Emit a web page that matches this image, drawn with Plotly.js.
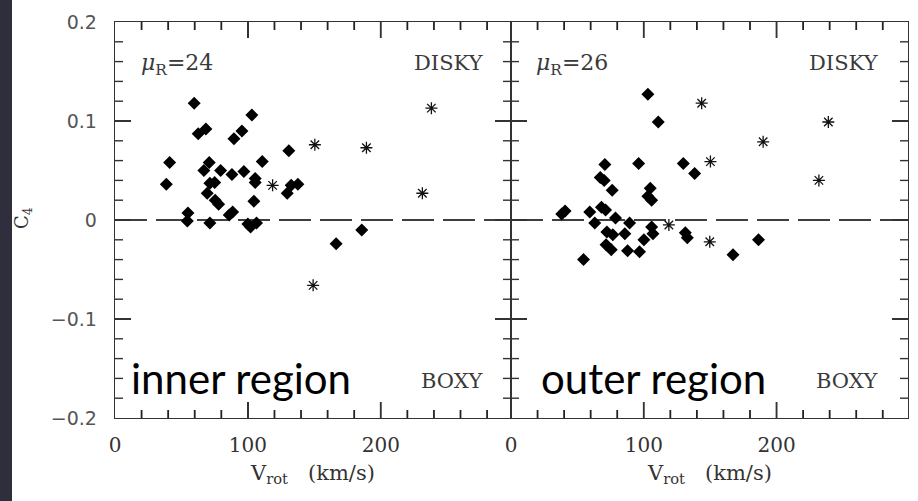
<!DOCTYPE html>
<html>
<head>
<meta charset="utf-8">
<script src="https://cdn.plot.ly/plotly-3.0.1.min.js"></script>
<style>html,body{margin:0;padding:0;background:#fff;}#chart{width:918px;height:501px;}</style>
</head>
<body>
<div id="chart"></div>
<script>
// ---- data (V_rot in km/s, C4) ----
const innerDiamondV = [59.6,103,62.6,68.4,95.5,89.5,130.8,41.1,70.9,110.8,66.9,79.5,88,97,105.5,105.5,38.6,71.4,75,69.4,75.4,78,104.5,129.6,132.6,137.6,54.9,54.4,71.4,86,88.5,100,102,106.5,185.7,166.4];
const innerDiamondC = [0.118,0.106,0.087,0.092,0.090,0.082,0.070,0.058,0.058,0.059,0.050,0.050,0.046,0.049,0.042,0.038,0.036,0.037,0.038,0.027,0.020,0.016,0.019,0.027,0.035,0.036,0.007,-0.001,-0.003,0.005,0.008,-0.004,-0.007,-0.003,-0.010,-0.024];
const innerStarV = [118.6,150.4,189.2,238.1,231.3,149.1];
const innerStarC = [0.035,0.076,0.073,0.113,0.027,-0.066];

const outerDiamondV = [103.1,110.9,70.7,96.1,129.8,138.3,67.2,70.2,76.2,104.9,103.1,105.9,40.7,38.2,59.3,68.1,71.2,78.7,63.1,89.3,105.9,106.9,72.2,76.7,85.7,100.1,131.3,132.8,186.4,71.6,75.5,87.8,96.8,54.6,167.2];
const outerDiamondC = [0.127,0.099,0.056,0.057,0.057,0.047,0.043,0.040,0.030,0.032,0.024,0.020,0.009,0.006,0.008,0.013,0.010,0.002,-0.003,-0.003,-0.007,-0.014,-0.012,-0.015,-0.014,-0.020,-0.013,-0.018,-0.020,-0.025,-0.030,-0.031,-0.032,-0.040,-0.035];
const outerStarV = [143.6,239,189.9,150.2,231.9,118.9,149.7];
const outerStarC = [0.118,0.099,0.079,0.059,0.040,-0.005,-0.022];

const yTickVals = [-0.2,-0.1,0,0.1,0.2];
const yTickText = ['\u22120.2','\u22120.1','0','0.1','0.2'];
const xTickVals = [0,100,200];
const xTickText = ['0','100','200'];
const panelLabels = ['inner region','outer region'];
const muLabels = ['24','26'];

// ---- layout helpers ----
const W = 918, H = 501;
const px = x => x / W;
const py = y => 1 - y / H;
const X1 = [0, 298], X2 = [0, 299], YR = [-0.2, 0.2];
const yPerPx = (YR[1] - YR[0]) / 396;   // plot height in px

const diamondMarker = {symbol:'diamond', size:10, color:'#000', line:{width:0}};
const starMarker = {symbol:'asterisk-open', size:10, color:'#111', line:{width:1.3, color:'#111'}};

const tickCol = '#333';
// x-axis tick marks (top and bottom) as line segments through the axis scales
function xTickTrace(xa, ya, xr) {
  const xs = [], ys = [];
  for (let v = 20; v < xr[1]; v += 20) {
    const len = (v % 100 === 0 ? 16 : 8) * yPerPx;
    xs.push(v, v, null, v, v, null);
    ys.push(YR[0], YR[0] + len, null, YR[1], YR[1] - len, null);
  }
  return {x: xs, y: ys, xaxis: xa, yaxis: ya, mode: 'lines', type: 'scatter',
          line: {color: '#222', width: 1.8}, hoverinfo: 'skip', connectgaps: false};
}

const traces = [
  xTickTrace('x', 'y', X1),
  xTickTrace('x2', 'y2', X2),
  {x:innerDiamondV, y:innerDiamondC, xaxis:'x', yaxis:'y', mode:'markers', type:'scatter', marker:diamondMarker},
  {x:innerStarV, y:innerStarC, xaxis:'x', yaxis:'y', mode:'markers', type:'scatter', marker:starMarker},
  {x:outerDiamondV, y:outerDiamondC, xaxis:'x2', yaxis:'y2', mode:'markers', type:'scatter', marker:diamondMarker},
  {x:outerStarV, y:outerStarC, xaxis:'x2', yaxis:'y2', mode:'markers', type:'scatter', marker:starMarker}
];

const serif = '"DejaVu Serif", "Liberation Serif", serif';
const sans = '"DejaVu Sans", "Liberation Sans", sans-serif';

function xAxis(dom, rng, anchor) {
  return {
    domain: dom, range: rng, anchor: anchor,
    showline: true, linecolor: '#333', linewidth: 1.3, mirror: 'ticks',
    ticks: 'inside', ticklen: 16, tickwidth: 1.4, tickcolor: tickCol,
    tickmode: 'array', tickvals: xTickVals, ticktext: xTickText,
    tickfont: {family: serif, size: 20, color: '#333'},
    ticklabelstandoff: 9,
    showgrid: false, zeroline: false, fixedrange: true
  };
}
function yAxis(anchor, showLabels) {
  return {
    domain: [py(418), py(22)], range: YR, anchor: anchor,
    showline: true, linecolor: '#333', linewidth: 1.3, mirror: 'ticks',
    ticks: 'inside', ticklen: 16, tickwidth: 1.4, tickcolor: tickCol,
    tickmode: 'array', tickvals: yTickVals, ticktext: yTickText, showticklabels: showLabels,
    tickfont: {family: sans, size: 19, color: '#555'},
    ticklabelstandoff: 13,
    showgrid: false, zeroline: false, fixedrange: true
  };
}

// y minor ticks drawn as pixel-sized shapes anchored to axis values
const shapes = [
  {type: 'rect', xref: 'paper', yref: 'paper', x0: 0, x1: px(12), y0: 0, y1: 1, fillcolor: '#2e2e3d', line: {width: 0}, layer: 'below'}
];
const minorLine = {color: tickCol, width: 1.4};
function addMinorYTicks(xa, ya) {
  for (let k = -9; k <= 9; k++) {
    if (k % 5 === 0) continue;
    const v = k * 0.02;
    shapes.push({type: 'line', yref: ya, xref: xa + ' domain', xsizemode: 'pixel', xanchor: 0, y0: v, y1: v, x0: 0, x1: 8, line: minorLine});
    shapes.push({type: 'line', yref: ya, xref: xa + ' domain', xsizemode: 'pixel', xanchor: 1, y0: v, y1: v, x0: 0, x1: -8, line: minorLine});
  }
}
addMinorYTicks('x', 'y');
addMinorYTicks('x2', 'y2');

const dashLine = {color: '#000', width: 1.6, dash: '32px,9px'};
shapes.push({type: 'line', xref: 'x domain', yref: 'y', x0: 0, x1: 1, y0: 0, y1: 0, line: dashLine, layer: 'below'});
shapes.push({type: 'line', xref: 'x2 domain', yref: 'y2', x0: 0, x1: 1, y0: 0, y1: 0, line: dashLine, layer: 'below'});

const annotations = [];
function txt(text, x, y, xanchor, font, extra) {
  annotations.push(Object.assign({text: text, xref: 'paper', yref: 'paper', x: px(x), y: py(y),
    xanchor: xanchor, yanchor: 'middle', showarrow: false, font: font}, extra || {}));
}
const labelFont = {family: serif, size: 21, color: '#3a3a3a'};
const muFont = {family: serif, size: 22, color: '#3a3a3a'};
const bigFont = {family: 'Lato, "Noto Sans", sans-serif', size: 42, color: '#000'};
// panel 1
txt('<i>\u03bc</i><sub>R</sub>=' + muLabels[0], 139, 64, 'left', muFont);
txt('DISKY', 486, 63, 'right', labelFont);
txt('BOXY', 486, 381, 'right', labelFont);
txt(panelLabels[0], 129, 378, 'left', bigFont);
// panel 2
txt('<i>\u03bc</i><sub>R</sub>=' + muLabels[1], 534, 64, 'left', muFont);
txt('DISKY', 881, 63, 'right', labelFont);
txt('BOXY', 881, 381, 'right', labelFont);
txt(panelLabels[1], 539, 378, 'left', bigFont);
// axis titles
const xtFont = {family: serif, size: 21, color: '#333'};
txt('V<sub>rot</sub>\u00a0\u00a0\u00a0(km/s)', 312, 474, 'center', xtFont);
txt('V<sub>rot</sub>\u00a0\u00a0\u00a0(km/s)', 709, 474, 'center', xtFont);
txt('C<sub>4</sub>', 23, 218, 'center', {family: serif, size: 18, color: '#333'}, {textangle: -90});

const layout = {
  width: W, height: H,
  margin: {l: 0, r: 0, t: 0, b: 0},
  paper_bgcolor: '#fff', plot_bgcolor: 'rgba(0,0,0,0)',
  showlegend: false,
  xaxis: xAxis([px(115), px(511)], X1, 'y'),
  yaxis: yAxis('x', true),
  xaxis2: xAxis([px(511), px(908)], X2, 'y2'),
  yaxis2: yAxis('x2', false),
  annotations: annotations,
  shapes: shapes
};

Plotly.newPlot('chart', traces, layout, {displayModeBar: false, staticPlot: true});
</script>
</body>
</html>
